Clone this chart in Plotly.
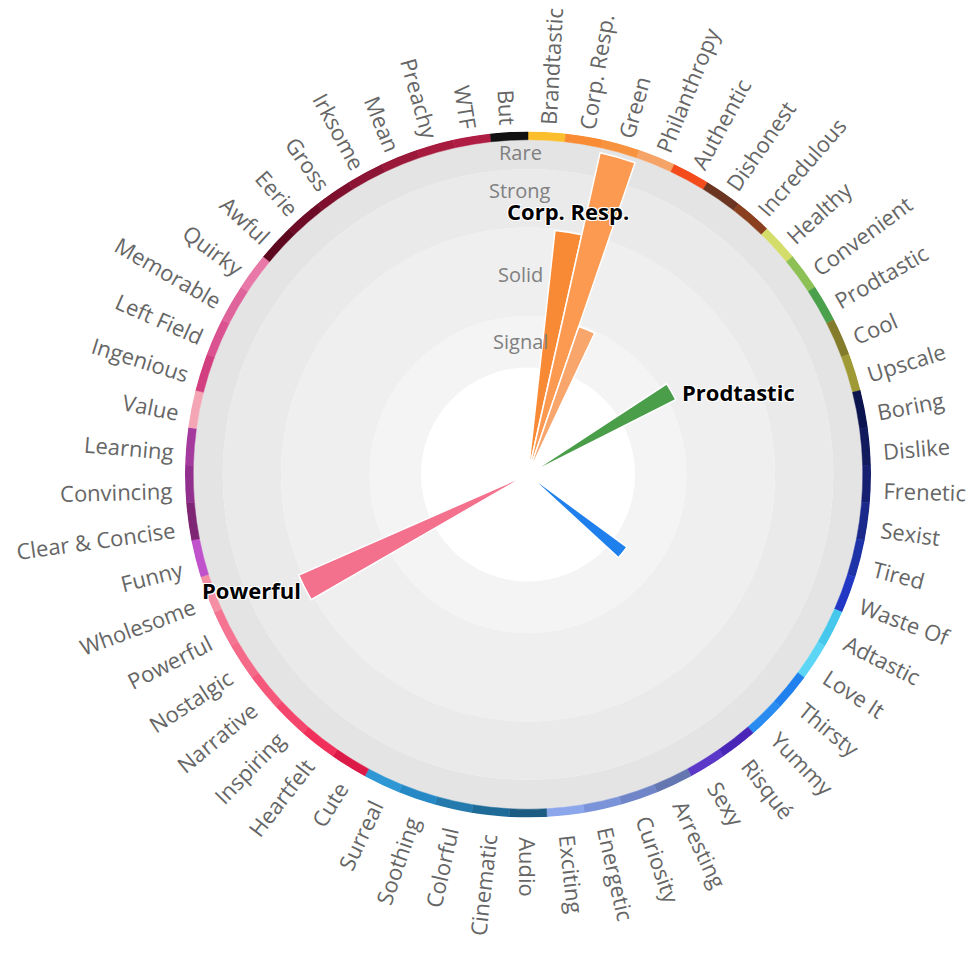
import math
import plotly.graph_objects as go

# ---------------- data ----------------
categories = ["Brandtastic", "Corp. Resp.", "Green", "Philanthropy", "Authentic", "Dishonest",
              "Incredulous", "Healthy", "Convenient", "Prodtastic", "Cool", "Upscale", "Boring",
              "Dislike", "Frenetic", "Sexist", "Tired", "Waste Of", "Adtastic", "Love It",
              "Thirsty", "Yummy", "Risqué", "Sexy", "Arresting", "Curiosity", "Energetic",
              "Exciting", "Audio", "Cinematic", "Colorful", "Soothing", "Surreal", "Cute",
              "Heartfelt", "Inspiring", "Narrative", "Nostalgic", "Powerful", "Wholesome",
              "Funny", "Clear & Concise", "Convincing", "Learning", "Value", "Ingenious",
              "Left Field", "Memorable", "Quirky", "Awful", "Eerie", "Gross", "Irksome",
              "Mean", "Preachy", "WTF", "But"]

category_colors = ["#fbbf2e", "#f88b33", "#f7933f", "#f5a366", "#f34b1c", "#6b3521",
                   "#8a401f", "#d4dc6a", "#8dc055", "#4aa04b", "#857c2b", "#a09a36", "#0c1450",
                   "#121b5e", "#161f70", "#1b2a8a", "#1e33a8", "#2238c4", "#45c8ec", "#5dd6f6",
                   "#1f80ee", "#2a8cf0", "#4a26b8", "#5b38c8", "#6577b0", "#6f85c8", "#7b93d8",
                   "#8ca6ec", "#1c5b82", "#1f6b98", "#257aad", "#2689c6", "#2e97d4", "#dc1a48",
                   "#f0305a", "#f4466c", "#f5587a", "#f46a88", "#f47492", "#f58fa3",
                   "#c052cc", "#7e2574", "#92308d", "#a43a9e", "#f5a6b5", "#d23f80",
                   "#da5290", "#e0649c", "#e878a8", "#5e0820", "#6e0c27", "#7e102e", "#8c1434",
                   "#9a1839", "#a61b3e", "#b01d44", "#111111"]

bar_categories = ["Corp. Resp.", "Green", "Philanthropy", "Prodtastic", "Thirsty", "Powerful"]
bar_values = [71.6, 96.1, 45.6, 48.3, 35.8, 73.0]
bar_colors = ["#f98a35", "#fb9a50", "#f8a66c", "#4a9e4a", "#1f7fec", "#f3718d"]
labelled_bars = ["Corp. Resp.", "Prodtastic", "Powerful"]

band_names = ["Signal", "Solid", "Strong", "Rare"]
band_inner = [31.2, 46.2, 72.0, 89.0]
band_outer = [46.2, 72.0, 89.0, 97.6]
band_colors = ["#f4f4f4", "#efefef", "#eaeaea", "#e4e4e4"]
band_label_r = [38.8, 58.2, 82.7, 94.0]

ring_inner, ring_outer = 97.6, 100.0

# ---------------- geometry ----------------
W, H = 976, 958
dom_x = [185 / W, 871 / W]
dom_y = [1 - 817.5 / H, 1 - 131.5 / H]
N = len(categories)
step = 360.0 / N
theta = [(i + 0.5) * step for i in range(N)]
theta_of = dict(zip(categories, theta))

cxp = (dom_x[0] + dom_x[1]) / 2
cyp = (dom_y[0] + dom_y[1]) / 2
sx = (dom_x[1] - dom_x[0]) / 2 / ring_outer
sy = (dom_y[1] - dom_y[0]) / 2 / ring_outer


def to_paper(r, th):
    a = math.radians(th)
    return cxp + r * sx * math.sin(a), cyp + r * sy * math.cos(a)


fig = go.Figure()

# background bands
fig.add_trace(go.Barpolar(
    theta=[0] * len(band_names), width=[360] * len(band_names),
    base=band_inner, r=[o - i for i, o in zip(band_inner, band_outer)],
    marker=dict(color=band_colors, line=dict(width=0)), hoverinfo="skip"))

# colored outer ring
fig.add_trace(go.Barpolar(
    theta=theta, width=[step] * N, base=[ring_inner] * N,
    r=[ring_outer - ring_inner] * N,
    marker=dict(color=category_colors, line=dict(color=category_colors, width=0.5)),
    hovertext=categories, hoverinfo="text"))

# data bars
fig.add_trace(go.Barpolar(
    theta=[theta_of[c] for c in bar_categories], width=[step] * len(bar_categories),
    base=[0] * len(bar_categories), r=bar_values,
    marker=dict(color=bar_colors, line=dict(color="white", width=1.5)),
    hovertext=bar_categories, hoverinfo="text"))

annotations = []

# category labels (radial)
LABEL_R = 103.8
for cat, th in zip(categories, theta):
    x, y = to_paper(LABEL_R, th)
    hidden = '<span style="color:rgba(0,0,0,0)">%s</span>' % cat
    if th <= 180:
        txt, ang = hidden + cat, th - 90
    else:
        txt, ang = cat + hidden, th - 270
    annotations.append(dict(x=x, y=y, xref="paper", yref="paper", text=txt, textangle=ang,
                            showarrow=False, xanchor="center", yanchor="middle", yshift=-6,
                            font=dict(family="Open Sans", size=22, color="#666666")))

# band labels
for name, r in zip(band_names, band_label_r):
    x, y = to_paper(r, 0)
    annotations.append(dict(x=x - 8 / W, y=y, xref="paper", yref="paper", text=name,
                            showarrow=False, xanchor="center", yanchor="middle",
                            font=dict(family="Open Sans", size=20, color="#808080")))

# data labels
for cat, val in zip(bar_categories, bar_values):
    if cat not in labelled_bars:
        continue
    th = theta_of[cat]
    x, y = to_paper(val, th)
    s = math.sin(math.radians(th))
    if s > 0.6:
        kw = dict(xanchor="left", yanchor="middle", xshift=9, yshift=0)
    elif s < -0.6:
        kw = dict(xanchor="right", yanchor="middle", xshift=-2, yshift=-2)
    else:
        kw = dict(xanchor="center", yanchor="middle", xshift=0, yshift=21)
    annotations.append(dict(x=x, y=y, xref="paper", yref="paper", text="<b>%s</b>" % cat,
                            showarrow=False,
                            font=dict(family="Open Sans", size=22, color="#000000",
                                      shadow="1px 1px 0 #fff, -1px -1px 0 #fff, 1px -1px 0 #fff, -1px 1px 0 #fff"),
                            **kw))

fig.update_layout(
    width=W, height=H, margin=dict(l=0, r=0, t=0, b=0),
    paper_bgcolor="white", showlegend=False,
    annotations=annotations,
    polar=dict(
        domain=dict(x=dom_x, y=dom_y), bgcolor="white", barmode="overlay", hole=0,
        radialaxis=dict(range=[0, ring_outer], visible=False),
        angularaxis=dict(rotation=90, direction="clockwise", visible=False),
    ),
)

fig.write_html("out.html")
